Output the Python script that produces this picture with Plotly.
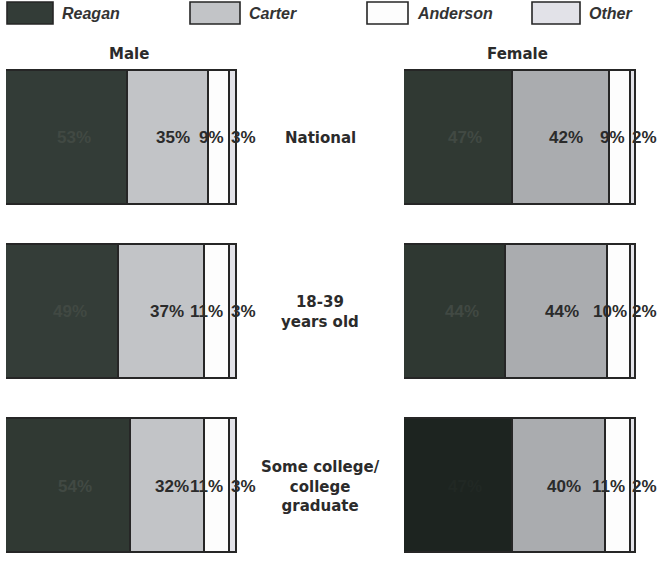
import plotly.graph_objects as go

# 1980 presidential vote by sex, within three voter groups (percent)
groups = ["National", "18-39 years old", "Some college/college graduate"]
group_labels = ["National", "18-39<br>years old", "Some college/<br>college<br>graduate"]
candidates = ["Reagan", "Carter", "Anderson", "Other"]

male_reagan = [53, 49, 54]
male_carter = [35, 37, 32]
male_anderson = [9, 11, 11]
male_other = [3, 3, 3]

female_reagan = [47, 44, 47]
female_carter = [42, 44, 40]
female_anderson = [9, 10, 11]
female_other = [2, 2, 2]

W, H = 669, 561
FONT = "Liberation Sans"
HEAVY = "DejaVu Sans"
INK = "#2b2b2b"
EDGE = "#262626"

reagan_male_col = ["#333c37", "#343d38", "#303933"]
reagan_female_col = ["#303933", "#2f3832", "#1d2420"]
carter_male_col = "#c2c4c7"
carter_female_col = "#aaacaf"
anderson_col = "#fdfdfd"
other_col = "#e2e2e8"


def px(x):
    return x / W


def py(y):
    return 1 - y / H


fig = go.Figure()

panels = [
    ("x", [male_reagan, male_carter, male_anderson, male_other],
     [reagan_male_col, carter_male_col, anderson_col, other_col], reagan_male_col),
    ("x2", [female_reagan, female_carter, female_anderson, female_other],
     [reagan_female_col, carter_female_col, anderson_col, other_col], reagan_female_col),
]

for xa, series, colors, _ in panels:
    for name, vals, col in zip(candidates, series, colors):
        fig.add_trace(go.Bar(
            y=groups, x=vals, orientation="h", name=name,
            xaxis=xa, yaxis="y", width=0.77,
            marker=dict(color=col, line=dict(color=EDGE, width=1.6)),
            showlegend=False, hoverinfo="skip",
        ))

annotations = []


def label(x, y, xa, text, color=INK, xanchor="center", xshift=0):
    annotations.append(dict(x=x, y=y, xref=xa, yref="y", text=f"<b>{text}</b>",
                            xanchor=xanchor, yanchor="middle", xshift=xshift,
                            showarrow=False,
                            font=dict(family=FONT, size=17, color=color)))


# value labels placed from the cumulative segment boundaries
for xa, series, _, reagan_cols in panels:
    reagan, carter, anderson, other = series
    for i, g in enumerate(groups):
        r, c, a, o = reagan[i], carter[i], anderson[i], other[i]
        # numbers printed on the dark Reagan band barely stand out from it
        dark = "#212824" if reagan_cols[i] == "#1d2420" else "#414943"
        label(r / 2 + 3, g, xa, f"{r}%", color=dark)
        label(r + c / 2 + 2, g, xa, f"{c}%")
        label(r + c + 1, g, xa, f"{a}%")
        label(r + c + a, g, xa, f"{o}%", xanchor="left", xshift=-1)

# group names between the two panels
for g, lab in zip(groups, group_labels):
    annotations.append(dict(x=px(320), y=g, xref="paper", yref="y",
                            xanchor="center", yanchor="middle",
                            text=f"<b>{lab}</b>", showarrow=False, align="center",
                            font=dict(family=HEAVY, size=15, color=INK)))

# panel titles
for title, cx in [("Male", 129), ("Female", 517)]:
    annotations.append(dict(x=px(cx), y=py(54), xref="paper", yref="paper",
                            xanchor="center", yanchor="middle",
                            text=f"<b>{title}</b>", showarrow=False,
                            font=dict(family=HEAVY, size=15, color=INK)))

# key across the top
shapes = []
legend_items = [
    ("Reagan", reagan_male_col[0], 7, 53),
    ("Carter", carter_male_col, 190, 240),
    ("Anderson", anderson_col, 367, 408),
    ("Other", other_col, 532, 580),
]
for name, col, x0, x1 in legend_items:
    shapes.append(dict(type="rect", xref="paper", yref="paper",
                       x0=px(x0), x1=px(x1), y0=py(2), y1=py(24),
                       fillcolor=col, line=dict(color=EDGE, width=1.6)))
    annotations.append(dict(x=px(x1 + 7), y=py(13), xref="paper", yref="paper",
                            xanchor="left", yanchor="middle",
                            text=f"<b><i>{name}</i></b>", showarrow=False,
                            font=dict(family=FONT, size=16, color="#333333")))

axis_off = dict(range=[0, 100], showgrid=False, zeroline=False, visible=False, fixedrange=True)

fig.update_layout(
    width=W, height=H,
    margin=dict(l=0, r=0, t=0, b=0),
    paper_bgcolor="white", plot_bgcolor="rgba(0,0,0,0)",
    barmode="stack", bargap=0,
    xaxis=dict(domain=[px(6), px(237)], **axis_off),
    xaxis2=dict(domain=[px(404), px(636)], anchor="y", **axis_off),
    yaxis=dict(type="category", categoryarray=groups, categoryorder="array",
               range=[2.43, -0.79], domain=[0, 1], visible=False,
               showgrid=False, zeroline=False, fixedrange=True),
    annotations=annotations,
    shapes=shapes,
    showlegend=False,
)

fig.write_html("out.html")
